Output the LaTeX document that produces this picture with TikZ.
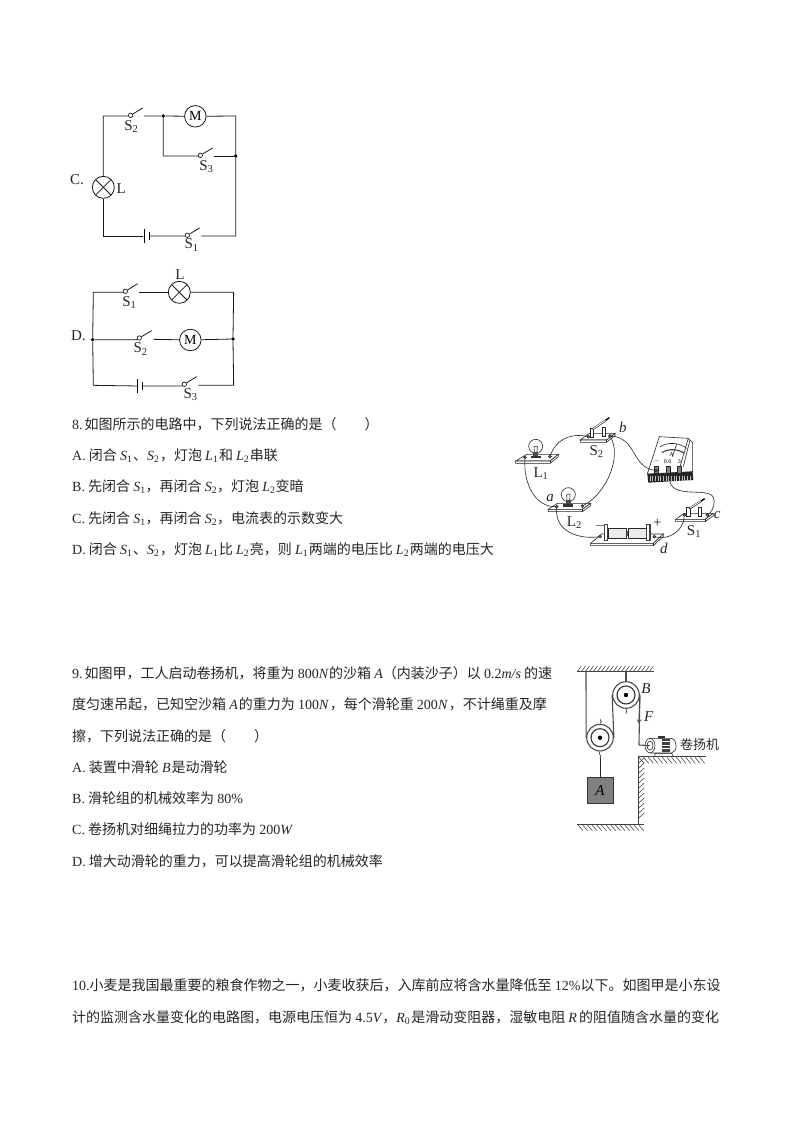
\documentclass[tikz,border=0pt]{standalone}
\usepackage{fontspec}
\setmainfont{Noto Sans CJK SC}
\newfontfamily\latfont{Liberation Serif}
\newcommand{\rmn}[1]{{\latfont #1}}
\newcommand{\itl}[1]{{\latfont\itshape #1}}
\newcommand{\sbs}[1]{{\latfont\textsubscript{#1}}}
\newcommand{\sbw}[1]{\sbs{#1}\kern.6pt}
\usetikzlibrary{shapes.geometric}
\begin{document}
\begin{tikzpicture}[x=1pt,y=-1pt]
    \tikzstyle{txt}=[anchor=base west,inner sep=0pt,font=\fontsize{14pt}{16pt}\selectfont,text=black!85]
    \tikzstyle{lab}=[inner sep=0pt,font=\latfont\fontsize{15pt}{17pt}\selectfont,text=black!85]
    \tikzstyle{tiny}=[inner sep=0pt,font=\latfont\fontsize{6pt}{7pt}\selectfont]
    \tikzstyle{wire}=[line width=.8pt,black!90]
    \tikzstyle{contact}=[circle,draw=black!90,fill=white,line width=.7pt,inner sep=0pt,minimum size=4.4pt]
    \tikzstyle{junct}=[circle,fill=black,inner sep=0pt,minimum size=3.8pt]
    \tikzstyle{motor}=[circle,draw=black!90,fill=white,line width=.8pt,inner sep=0pt,minimum size=21.5pt,font=\latfont\fontsize{14pt}{16pt}\selectfont]
    \tikzstyle{lamp}=[circle,draw=black!90,line width=.8pt,inner sep=0pt,minimum size=22pt,path picture={\draw[line width=.8pt,black!90] (path picture bounding box.north west) -- (path picture bounding box.south east) (path picture bounding box.north east) -- (path picture bounding box.south west);}]
    \tikzstyle{platel}=[fill=black,inner sep=0pt,minimum width=.8pt,minimum height=13.4pt]
    \tikzstyle{plates}=[fill=black,inner sep=0pt,minimum width=.9pt,minimum height=7.4pt]
    \tikzstyle{cable}=[line width=.6pt,black!85]
    \tikzstyle{post}=[circle,fill=black!60,draw=black,line width=.3pt,inner sep=0pt,minimum size=3.2pt]
    \tikzstyle{rope}=[line width=1.1pt,black!70]
    \tikzstyle{hatch}=[line width=.55pt,black!75]
    \tikzstyle{pulley}=[circle,draw=black!70,fill=white,line width=1.1pt,inner sep=0pt,minimum size=26.6pt]
    \tikzstyle{hub}=[circle,draw=black!80,fill=white,line width=1.1pt,inner sep=0pt,minimum size=18pt]
    \tikzstyle{axle}=[circle,fill=black,inner sep=0pt,minimum size=4.4pt]
    \useasboundingbox[fill=white] (0,0) rectangle (794,1123);

    % option C
    \begin{scope}[x=.3333pt,y=-.3333pt,shift={(60pt,-90pt)}]
        \coordinate (cTL) at (130,78);
        \coordinate (cTR) at (527,78);
        \coordinate (cBL) at (130,438);
        \coordinate (cBR) at (527,438);
        \coordinate (cS2b) at (248,54);
        \coordinate (cS2r) at (252,78);
        \coordinate (cS3b) at (458,174);
        \coordinate (cS3r) at (463,198);
        \coordinate (cS1b) at (419,414);
        \coordinate (cS1r) at (424,438);
        \coordinate (cTurn) at (310,198);
        \node[contact] (cS2) at (212,76) {};
        \node[contact] (cS3) at (421,196) {};
        \node[contact] (cS1) at (382,436) {};
        \node[junct] (cJa) at (310,78) {};
        \node[junct] (cJb) at (527,198) {};
        \node[motor] (cM) at (406,79) {M};
        \node[lamp] (cL) at (130,292) {};
        \node[platel] (cBa) at (252,438) {};
        \node[plates] (cBb) at (268,438) {};
        \draw[wire] (cL) -- (cTL) -- (cS2.west |- cTL) -- (cS2);
        \draw[wire] (cS2) -- (cS2b);
        \draw[wire] (cS2r) -- (cJa) -- (cM);
        \draw[wire] (cM) -- (cTR) -- (cJb) -- (cBR) -- (cS1r);
        \draw[wire] (cJa) -- (cTurn) -- (cS3.west |- cTurn) -- (cS3);
        \draw[wire] (cS3) -- (cS3b);
        \draw[wire] (cS3r) -- (cJb);
        \draw[wire] (cS1) -- (cS1b);
        \draw[wire] (cS1) -- (cS1.west |- cBb) -- (cBb);
        \draw[wire] (cBa) -- (cBL) -- (cL);
        \node[lab] (cLab) at (51,268) {C.};
        \node[lab] (cLL) at (184,295) {L};
        \node[lab] (cLa) at (214,110) {S\sbs{2}};
        \node[lab] (cLb) at (439,230) {S\sbs{3}};
        \node[lab] (cLc) at (395,465) {S\sbs{1}};
    \end{scope}

    % option D
    \begin{scope}[x=.3333pt,y=-.3333pt,shift={(60pt,-260pt)}]
        \coordinate (dTL) at (100,97);
        \coordinate (dTR) at (521,97);
        \coordinate (dBL) at (100,376);
        \coordinate (dBR) at (521,376);
        \coordinate (dS1b) at (233,71);
        \coordinate (dS1r) at (238,97);
        \coordinate (dS2b) at (275,212);
        \coordinate (dS2r) at (280,238);
        \coordinate (dS3b) at (410,350);
        \coordinate (dS3r) at (415,376);
        \node[contact] (dS1) at (196,94) {};
        \node[contact] (dS2) at (238,234) {};
        \node[contact] (dS3) at (373,373) {};
        \node[junct] (dJa) at (98,239) {};
        \node[junct] (dJb) at (519,237) {};
        \node[lamp] (dL) at (358,97) {};
        \node[motor] (dM) at (391,240) {M};
        \node[platel] (dBa) at (232,378) {};
        \node[plates] (dBb) at (246,378) {};
        \draw[wire] (dBa) -- (dBL) -- (dJa) -- (dTL) -- (dS1.west |- dTL) -- (dS1);
        \draw[wire] (dS1) -- (dS1b);
        \draw[wire] (dS1r) -- (dL);
        \draw[wire] (dL) -- (dTR) -- (dJb) -- (dBR) -- (dS3r);
        \draw[wire] (dJa) -- (dS2.west |- dJa) -- (dS2);
        \draw[wire] (dS2) -- (dS2b);
        \draw[wire] (dS2r) -- (dM);
        \draw[wire] (dM) -- (dJb);
        \draw[wire] (dS3) -- (dS3b);
        \draw[wire] (dS3) -- (dS3.west |- dBb) -- (dBb);
        \node[lab] (dLab) at (55,228) {D.};
        \node[lab] (dLL) at (360,45) {L};
        \node[lab] (dLa) at (208,127) {S\sbs{1}};
        \node[lab] (dLb) at (242,267) {S\sbs{2}};
        \node[lab] (dLc) at (392,405) {S\sbs{3}};
    \end{scope}

    % question 8
    \node[txt] (qa) at (72,429) {\rmn{8.}\kern2pt 如图所示的电路中，下列说法正确的是（　　）};
    \node[txt] (qaA) at (72,460) {\rmn{A.} 闭合 \itl{S}\sbw{1}、\itl{S}\sbw{2}，灯泡 \itl{L}\sbw{1}和 \itl{L}\sbw{2}串联};
    \node[txt] (qaB) at (72,491) {\rmn{B.} 先闭合 \itl{S}\sbs{1}，再闭合 \itl{S}\sbs{2}，灯泡 \itl{L}\sbs{2}变暗};
    \node[txt] (qaC) at (72,523) {\rmn{C.} 先闭合 \itl{S}\sbs{1}，再闭合 \itl{S}\sbs{2}，电流表的示数变大};
    \node[txt] (qaD) at (72,554) {\rmn{D.} 闭合 \itl{S}\sbw{1}、\itl{S}\sbw{2}，灯泡 \itl{L}\sbw{1}比 \itl{L}\sbw{2}亮，则 \itl{L}\sbw{1}两端的电压比 \itl{L}\sbw{2}两端的电压大};

    % circuit of question 8
    \begin{scope}[x=.3333pt,y=-.3333pt,shift={(500pt,-400pt)}]
        \foreach \xa/\xb/\xc/\xd/\yt/\yb in {47/80/175/150/163/183, 241/268/345/320/100/120, 145/172/272/247/310/328, 272/305/490/460/402/430, 527/553/640/615/340/358} {
            \draw[cable,fill=white] (\xa,\yb) -- (\xb,\yt) -- (\xc,\yt) -- (\xd,\yb) -- cycle;
            \draw[cable,fill=white] (\xa,\yb) -- (\xa,\yb+7) -- (\xd,\yb+7) -- (\xc,\yt+7) -- (\xc,\yt) -- (\xd,\yb) -- cycle;
            \draw[cable] (\xd,\yb) -- (\xd,\yb+7);
        }
        \foreach \bx/\by in {107/172, 205/317} {
            \begin{scope}[shift={(\bx,\by)}]
                \draw[cable,fill=white] (0,-33) circle[radius=21];
                \fill[black!80] (-15,-5) rectangle (15,3);
                \fill[black!70] (-8,-16) rectangle (8,-5);
                \draw[cable] (-4,-16) -- (-5,-33) (4,-16) -- (5,-33) (-5,-33) -- (5,-33);
            \end{scope}
        }
        % battery
        \fill[black!75] (311,373) rectangle (325,423);
        \fill[white] (315,376) rectangle (320,420);
        \draw[cable,fill=black!8] (325,384) rectangle (378,416);
        \fill[black!70] (378,392) rectangle (386,408);
        \draw[cable,fill=black!8] (386,384) rectangle (438,416);
        \fill[black!75] (438,373) rectangle (452,423);
        \fill[white] (442,376) rectangle (447,420);
        % switches
        \foreach \px/\py in {275/112, 312/108, 565/348, 600/348} {
            \draw[cable,fill=white] (\px-5,\py) rectangle (\px+5,\py-26);
        }
        \draw[line width=2pt,black!80] (278,88) -- (318,60);
        \draw[line width=.8pt,white] (280,86) -- (316,61);
        \draw[line width=1.4pt,black] (318,60) -- (328,53);
        \draw[line width=2pt,black!80] (568,326) -- (604,303);
        \draw[line width=.8pt,white] (570,324) -- (602,304);
        \draw[line width=1.4pt,black] (604,303) -- (614,296);
        % ammeter
        \draw[cable,fill=white] (478,110) -- (565,115) -- (578,128) -- (578,215) -- (442,222) -- cycle;
        \draw[cable] (565,115) -- (540,200);
        \draw[cable] (570,120) -- (550,200);
        \draw[cable] (480,140) .. controls (505,125) and (540,128) .. (560,145);
        \draw[line width=1.2pt,black!70] (486,158) .. controls (505,145) and (535,147) .. (553,160);
        \draw[cable] (517,170) -- (530,133);
        \fill[black!85] (442,222) -- (578,215) -- (580,240) -- (445,248) -- cycle;
        \foreach \sx in {450,458,...,572} {
            \draw[line width=.7pt,white!75!black] (\sx,228) -- (\sx,243);
        }
        \node[tiny] (amA) at (515,163) {A};
        \node[tiny] (amM) at (470,184) {$-$};
        \node[tiny] (amB) at (503,184) {0.6};
        \node[tiny] (amC) at (538,184) {3};
        \foreach \px in {468,505,538} {
            \draw[cable,fill=black!50] (\px-6,198) rectangle (\px+6,219);
        }
        % terminals
        \node[post] (laL) at (75,172) {};
        \node[post] (laR) at (150,170) {};
        \node[post] (lbL) at (170,320) {};
        \node[post] (lbR) at (247,318) {};
        \node[post] (swbL) at (265,110) {};
        \node[post] (swbR) at (330,108) {};
        \node[post] (batL) at (300,410) {};
        \node[post] (batR) at (463,410) {};
        \node[post] (swaL) at (553,345) {};
        \node[post] (swaR) at (622,345) {};
        \node[post] (amL) at (468,212) {};
        \coordinate (amO) at (510,246);
        \draw[cable] (laR) .. controls (165,125) and (205,98) .. (swbL);
        \draw[cable] (swbR) .. controls (365,170) and (320,280) .. (lbR);
        \draw[cable] (swbR) .. controls (410,115) and (395,200) .. (amL);
        \draw[cable] (laL) .. controls (70,250) and (105,320) .. (lbL);
        \draw[cable] (lbL) .. controls (165,395) and (235,418) .. (batL);
        \draw[cable] (amO) .. controls (525,300) and (640,255) .. (642,300) .. controls (644,325) and (630,340) .. (swaR);
        \draw[cable] (swaL) .. controls (550,395) and (505,420) .. (batR);
        % labels
        \node[lab] (swbT) at (290,155) {S\sbs{2}};
        \node[lab] (laT) at (123,222) {L\sbs{1}};
        \node[lab] (lbT) at (223,368) {L\sbs{2}};
        \node[lab] (swaT) at (582,395) {S\sbs{1}};
        \node[lab] (ptb) at (369,82) {\itshape b};
        \node[lab] (pta) at (150,295) {\itshape a};
        \node[lab] (ptc) at (652,345) {\itshape c};
        \node[lab] (ptd) at (492,445) {\itshape d};
        \node[lab] (minus) at (300,378) {$-$};
        \node[lab] (plus) at (472,370) {+};
    \end{scope}

    % question 9
    \node[txt] (qb) at (72,678) {\rmn{9.}\kern2pt 如图甲，工人启动卷扬机，将重为 \rmn{800}\itl{N}\kern1pt 的沙箱 \itl{A}（内装沙子）以 \rmn{0.2}\itl{m/s} 的速};
    \node[txt] (qbb) at (72,709) {度匀速吊起，已知空沙箱 \itl{A}\kern1pt 的重力为 \rmn{100}\itl{N}\kern1.5pt，每个滑轮重 \rmn{200}\itl{N}\kern1.5pt，不计绳重及摩};
    \node[txt] (qbc) at (72,741) {擦，下列说法正确的是（　　）};
    \node[txt] (qbA) at (72,772) {\rmn{A.} 装置中滑轮 \itl{B}\kern1pt 是动滑轮};
    \node[txt] (qbB) at (72,803) {\rmn{B.} 滑轮组的机械效率为 \rmn{80\%}};
    \node[txt] (qbC) at (72,834) {\rmn{C.} 卷扬机对细绳拉力的功率为 \rmn{200}\itl{W}};
    \node[txt] (qbD) at (72,866) {\rmn{D.} 增大动滑轮的重力，可以提高滑轮组的机械效率};

    % pulleys of question 9
    \begin{scope}[x=.3333pt,y=-.3333pt,shift={(560pt,-655pt)}]
        \foreach \hx in {52,64,...,270} {
            \draw[hatch] (\hx,50) -- +(12,-17);
        }
        \foreach \hx in {237,251,...,425} {
            \draw[hatch] (\hx,307) -- +(15,18);
        }
        \foreach \hy in {325,340,...,490} {
            \draw[hatch] (235,\hy) -- +(18,-16);
        }
        \foreach \hx in {54,68,...,240} {
            \draw[hatch] (\hx,510) -- +(15,17);
        }
        \coordinate (ceilL) at (52,50);
        \coordinate (ceilR) at (283,50);
        \coordinate (ceilA) at (78,50);
        \coordinate (ceilB) at (198,50);
        \coordinate (edgeC) at (235,305);
        \coordinate (edgeR) at (437,305);
        \coordinate (edgeB) at (235,508);
        \coordinate (floorL) at (52,508);
        \coordinate (floorR) at (253,508);
        \coordinate (ropeArr) at (237,207);
        \coordinate (ropeTurn) at (237,270);
        \draw[hatch,line width=.9pt] (ceilL) -- (ceilR);
        \draw[hatch,line width=.9pt] (edgeR) -- (edgeC) -- (edgeB);
        \draw[hatch,line width=.9pt] (floorL) -- (floorR);
        \node[pulley] (pulB) at (198,120) {};
        \node[pulley] (pulA) at (120,248) {};
        \node[hub] at (pulB) (hubB) {};
        \node[hub] at (pulA) (hubA) {};
        \node[axle] at (pulB) (axB) {};
        \node[axle] at (pulA) (axA) {};
        \node[draw=black!80,fill=black!50,line width=1pt,minimum width=26pt,minimum height=25.5pt,inner sep=0pt,font=\latfont\itshape\fontsize{15pt}{17pt}\selectfont] (boxA) at (120,406) {A};
        \draw[rope] (ceilA) -- (pulA.west);
        \draw[rope] (pulA.east) -- (pulB.west);
        \draw[rope] (ceilB) -- (pulB.north);
        \draw[rope] (pulB.east) -- (ropeTurn);
        \draw[rope,-stealth] (pulB.east) -- (ropeArr);
        \coordinate (hookB) at (198,175);
        \coordinate (hookA) at (120,205);
        \coordinate (hookC) at (120,310);
        \coordinate (hookT) at (120,193);
        \draw[cable] (pulB.south) .. controls (204,170) and (194,180) .. (hookB);
        \draw[cable] (hookT) .. controls (128,196) and (124,205) .. (hookA);
        \draw[cable] (pulA.south) .. controls (112,298) and (128,300) .. (hookC);
        \draw[cable] (hookC) -- (boxA.north);
        % winch
        \fill[black!80] (295,243) rectangle (315,252);
        \draw[cable,fill=white] (285,295) -- (335,295) -- (340,304) -- (285,304) -- cycle;
        \draw[cable,fill=white] (270,250) -- (335,250) .. controls (353,255) and (353,290) .. (335,294) -- (270,294) -- cycle;
        \fill[black!75] (305,252) rectangle (330,292);
        \foreach \sy in {260,270,280} {
            \draw[white,line width=.6pt] (305,\sy) -- (330,\sy);
        }
        \node[ellipse,draw=black!85,fill=white,line width=.6pt,minimum width=10pt,minimum height=14.5pt,inner sep=0pt] (drumO) at (270,272) {};
        \node[ellipse,draw=black!85,fill=white,line width=.6pt,minimum width=6pt,minimum height=9pt,inner sep=0pt] (drumI) at (270,272) {};
        \draw[rope] (ropeTurn) -- (drumI.center);
        \node[lab] (labB) at (258,101) {\itshape B};
        \node[lab] (labF) at (266,185) {\itshape F};
        \node[inner sep=0pt,font=\fontsize{13pt}{15pt}\selectfont,text=black!85] (labW) at (419,270) {卷扬机};
    \end{scope}

    % question 10
    \node[txt] (qc) at (72,990) {\rmn{10.}小麦是我国最重要的粮食作物之一，小麦收获后，入库前应将含水量降低至 \rmn{12\%}以下。如图甲是小东设};
    \node[txt] (qcb) at (72,1022) {计的监测含水量变化的电路图，电源电压恒为 \rmn{4.5}\itl{V}\kern1pt，\itl{R}\sbs{0}\kern1pt 是滑动变阻器，湿敏电阻 \itl{R}\kern2pt 的阻值随含水量的变化};
\end{tikzpicture}
\end{document}
